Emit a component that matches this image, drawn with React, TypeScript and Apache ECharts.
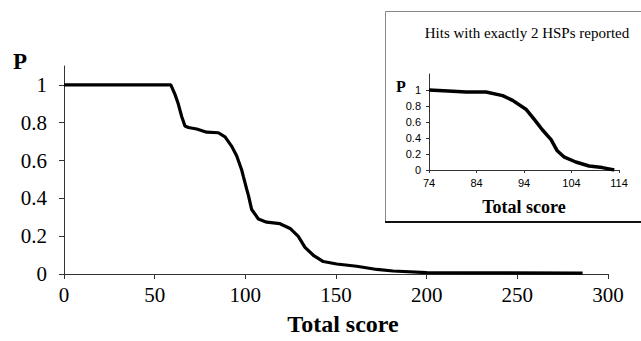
import React, { useEffect, useRef } from "react";
import * as echarts from "echarts";

// Main chart: P vs Total score
const mainScore = [0, 58.9, 61.2, 63.0, 64.9, 66.7, 68.6, 73.2, 78.7, 85.1, 88.8, 92.5, 95.2, 98.0, 98.9, 100.7, 101.7, 103.5, 107.2, 111.8, 119.1, 124.7, 129.2, 132.9, 137.5, 143.0, 150.4, 161.4, 172.5, 181.5, 200, 286];
const mainP = [1.0, 1.0, 0.95, 0.9, 0.833, 0.783, 0.775, 0.767, 0.75, 0.747, 0.725, 0.675, 0.625, 0.55, 0.516, 0.45, 0.416, 0.341, 0.291, 0.274, 0.266, 0.241, 0.199, 0.141, 0.099, 0.066, 0.053, 0.041, 0.024, 0.016, 0.007, 0.005];
const mainXTicks = [0, 50, 100, 150, 200, 250, 300];
const mainYTicks = [0, 0.2, 0.4, 0.6, 0.8, 1];

// Inset: hits with exactly 2 HSPs reported
const insetScore = [74, 79, 81.8, 86, 89.5, 91.6, 94.4, 96.2, 97.9, 99.7, 101, 102.5, 104.9, 107.7, 110.5, 113];
const insetP = [1.0, 0.985, 0.975, 0.975, 0.93, 0.87, 0.76, 0.63, 0.5, 0.38, 0.24, 0.16, 0.1, 0.05, 0.03, 0.0];
const insetXTicks = [74, 84, 94, 104, 114];
const insetYTicks = [0, 0.2, 0.4, 0.6, 0.8, 1];

const serif = "'Liberation Serif', 'Times New Roman', serif";
const sans = "'Liberation Sans', Arial, sans-serif";

export default function App() {
  const ref = useRef<HTMLDivElement>(null);
  useEffect(() => {
    document.body.style.margin = "0";
    const chart = echarts.init(ref.current!, null, { renderer: "svg" });
    const axisLine = { show: true, lineStyle: { color: "#333", width: 1 } };
    chart.setOption({
      animation: false,
      backgroundColor: "#fff",
      grid: [
        { left: 64, right: 33, top: 66, bottom: 54 },
        { left: 429, right: 22, top: 74, bottom: 171 },
      ],
      xAxis: [
        {
          type: "value",
          gridIndex: 0,
          min: 0,
          max: 300,
          interval: 50,
          axisLine,
          axisTick: { show: true, length: 5, lineStyle: { color: "#333" }, customValues: mainXTicks },
          axisLabel: { customValues: mainXTicks, fontFamily: serif, fontSize: 21, color: "#000", margin: 10 },
          splitLine: { show: false },
          name: "Total score",
          nameLocation: "middle",
          nameGap: 38,
          nameTextStyle: { fontFamily: serif, fontSize: 24, fontWeight: "bold", color: "#000", padding: [0, 0, 0, 14] },
        },
        {
          type: "value",
          gridIndex: 1,
          min: 74,
          max: 114,
          axisLine,
          axisTick: { show: true, length: 3, lineStyle: { color: "#333" }, customValues: insetXTicks },
          axisLabel: { customValues: insetXTicks, fontFamily: sans, fontSize: 11, color: "#000", margin: 7 },
          splitLine: { show: false },
          name: "Total score",
          nameLocation: "middle",
          nameGap: 28,
          nameTextStyle: { fontFamily: serif, fontSize: 18, fontWeight: "bold", color: "#000" },
        },
      ],
      yAxis: [
        {
          type: "value",
          gridIndex: 0,
          min: 0,
          max: 1.1,
          axisLine,
          axisTick: { show: true, length: 5, lineStyle: { color: "#333" }, customValues: mainYTicks },
          axisLabel: { customValues: mainYTicks, fontFamily: serif, fontSize: 21, color: "#000", margin: 17 },
          splitLine: { show: false },
        },
        {
          type: "value",
          gridIndex: 1,
          min: 0,
          max: 1.2,
          axisLine,
          axisTick: { show: true, length: 3, lineStyle: { color: "#333" }, customValues: insetYTicks },
          axisLabel: { customValues: insetYTicks, fontFamily: sans, fontSize: 11, color: "#000", margin: 8 },
          splitLine: { show: false },
        },
      ],
      graphic: [
        {
          type: "rect",
          z: -10,
          shape: { x: 385.5, y: 11.5, width: 262, height: 210 },
          style: { fill: "none", stroke: "#888", lineWidth: 1 },
        },
        {
          type: "line",
          z: -10,
          shape: { x1: 385, y1: 222, x2: 641, y2: 222 },
          style: { stroke: "#111", lineWidth: 2 },
        },
        {
          type: "text",
          x: 20,
          y: 61,
          style: { text: "P", fontFamily: serif, fontSize: 23, fontWeight: "bold", fill: "#000", align: "center", verticalAlign: "middle" },
        },
        {
          type: "text",
          x: 401,
          y: 86,
          style: { text: "P", fontFamily: serif, fontSize: 16, fontWeight: "bold", fill: "#000", align: "center", verticalAlign: "middle" },
        },
        {
          type: "text",
          x: 527,
          y: 33,
          style: { text: "Hits with exactly 2 HSPs reported", fontFamily: serif, fontSize: 15, fill: "#000", align: "center", verticalAlign: "middle" },
        },
      ],
      series: [
        {
          type: "line",
          xAxisIndex: 0,
          yAxisIndex: 0,
          data: mainScore.map((x, i) => [x, mainP[i]]),
          symbol: "none",
          lineStyle: { color: "#000", width: 3.2 },
          z: 3,
        },
        {
          type: "line",
          xAxisIndex: 1,
          yAxisIndex: 1,
          data: insetScore.map((x, i) => [x, insetP[i]]),
          symbol: "none",
          lineStyle: { color: "#000", width: 3.5 },
          z: 3,
        },
      ],
    });
    return () => chart.dispose();
  }, []);
  return <div ref={ref} style={{ position: "absolute", left: 0, top: 0, width: 641, height: 341 }} />;
}
